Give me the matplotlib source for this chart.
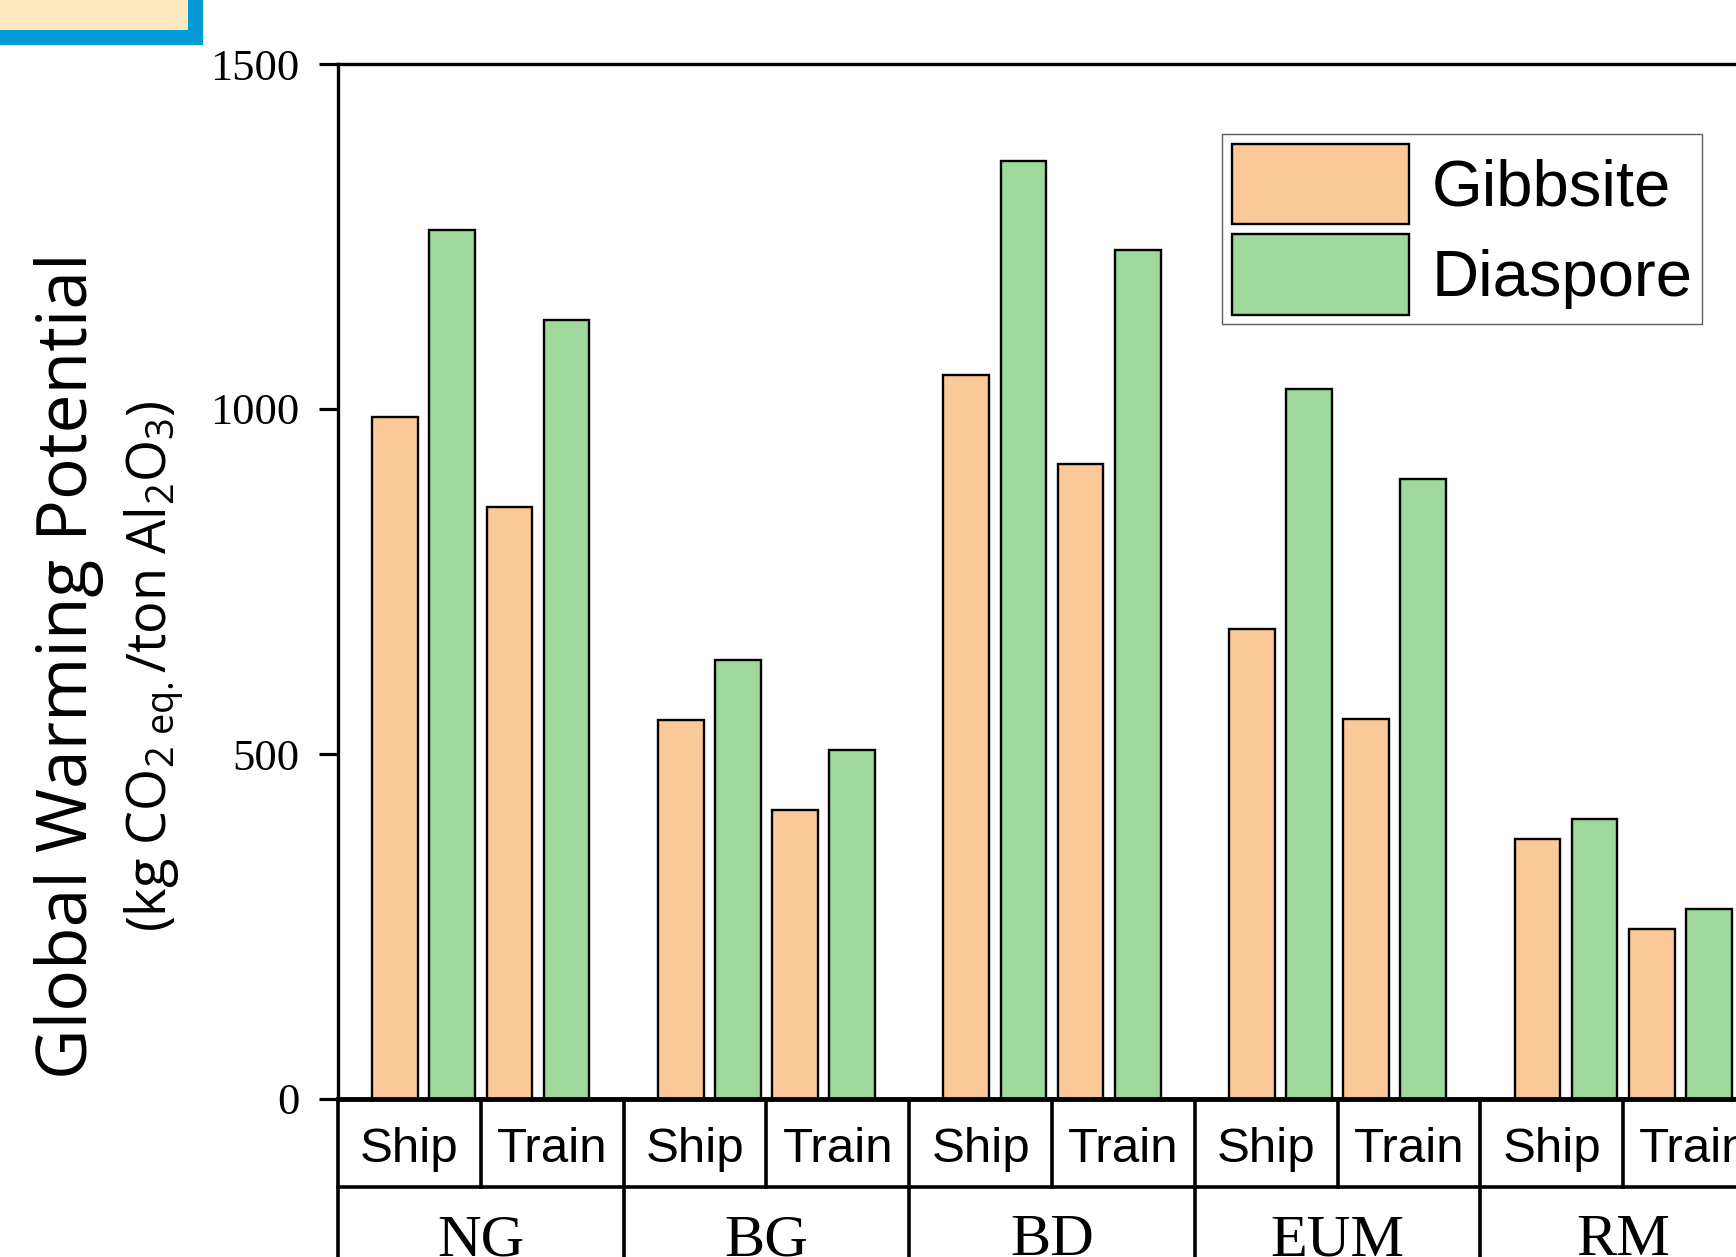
import numpy as np
import matplotlib
matplotlib.use("Agg")
import matplotlib.pyplot as plt
from matplotlib.patches import Rectangle, Patch

plt.rcParams['mathtext.fontset'] = 'custom'
plt.rcParams['mathtext.rm'] = 'Open Sans'
plt.rcParams['mathtext.it'] = 'Open Sans:italic'

groups = ['NG', 'BG', 'BD', 'EUM', 'RM']
modes = ['Ship', 'Train']
gibbsite = [988, 858, 549, 419, 1049, 920, 681, 551, 377, 247]
diaspore = [1259, 1129, 636, 506, 1360, 1230, 1029, 899, 406, 276]

c_gib = '#FBC998'
c_dia = '#9ED89B'

W, H = 1736, 1257
fig = plt.figure(figsize=(W/100, H/100), dpi=100)

# axes: left at 338px, zero line at 1099px, 1500 at 64px
upx = 57.12
ax = fig.add_axes([338/W, 1 - 1099/H, 25*upx/W, (1099-64)/H])

xg, xd = [], []
for i in range(len(groups)):
    for j in range(2):
        xg.append(i*5 + 1 + 2*j)
        xd.append(i*5 + 2 + 2*j)

ax.bar(xg, gibbsite, width=0.8, color=c_gib, edgecolor='black', linewidth=1.7)
ax.bar(xd, diaspore, width=0.8, color=c_dia, edgecolor='black', linewidth=1.7)

ax.set_xlim(0, 25)
ax.set_ylim(0, 1500)
ax.set_yticks([0, 500, 1000, 1500])
ax.set_xticks([])
ax.tick_params(axis='y', direction='out', length=13.5, width=2.3, pad=14,
               labelsize=32, labelfontfamily='Liberation Serif')
for s in ['left', 'top']:
    ax.spines[s].set_linewidth(2.4)
ax.spines['bottom'].set_linewidth(3.5)
ax.spines['right'].set_visible(False)

# category table under the axis
tr = ax.get_xaxis_transform()
row = -(1187 - 1099) / 1035
ax.plot([0, 25], [row, row], transform=tr, color='black', lw=2.6, clip_on=False)
for i, g in enumerate(groups):
    x0 = i*5
    ax.plot([x0, x0], [0, -0.3], transform=tr, color='black', lw=2.6, clip_on=False)
    ax.plot([x0 + 2.5, x0 + 2.5], [0, row], transform=tr, color='black', lw=2.6, clip_on=False)
    for j, m in enumerate(modes):
        ax.text(x0 + 1.25 + 2.5*j, -(1162.5 - 1099)/1035, m, transform=tr,
                ha='center', va='baseline', fontsize=35.5, family='Liberation Sans',
                clip_on=False)
    ax.text(x0 + 2.5, -(1255 - 1099)/1035, g, transform=tr, ha='center',
            va='baseline', fontsize=43.5, family='Liberation Serif', clip_on=False)

# y label, two lines
fig.text(69/W, 1 - 666/H, 'Global Warming Potential', rotation=90,
         ha='center', va='center', fontsize=50, family='Open Sans')
fig.text(154/W, 1 - 666/H, r'(kg CO$_{2\ \mathrm{eq.}}$/ton Al$_2$O$_3$)',
         rotation=90, ha='center', va='center', fontsize=39, family='Open Sans')

# legend
handles = [Patch(facecolor=c_gib, edgecolor='black', linewidth=1.7, label='Gibbsite'),
           Patch(facecolor=c_dia, edgecolor='black', linewidth=1.7, label='Diaspore')]
leg = fig.legend(handles=handles, loc='upper left', bbox_to_anchor=(1222/W, 1 - 134/H),
                 prop={'family': 'Liberation Sans', 'size': 47}, frameon=True,
                 fancybox=False, borderpad=0.15, handlelength=2.72, handleheight=1.52,
                 handletextpad=0.34, labelspacing=0.15, borderaxespad=0)
leg.get_frame().set_edgecolor('#333333')
leg.get_frame().set_linewidth(1.0)

# corner box at top left
fig.patches.append(Rectangle((-60/W, 1 - 37/H), 255/W, 100/H, transform=fig.transFigure,
                             facecolor='#FFE8C0', edgecolor='#029BD8', linewidth=10.8,
                             zorder=5))

fig.savefig('out.png', dpi=100)
